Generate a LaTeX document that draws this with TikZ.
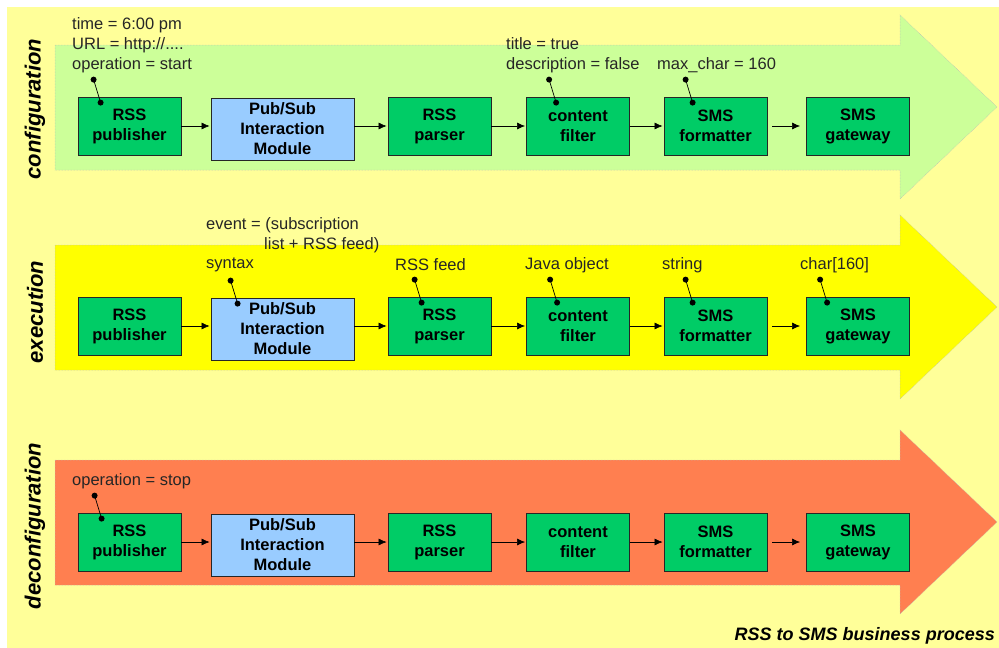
\documentclass[tikz,border=0pt]{standalone}
\usepackage{fontspec}
\setmainfont{Liberation Sans}
\usetikzlibrary{arrows.meta}
\definecolor{bgyellow}{HTML}{FFFF99}
\definecolor{cfggreen}{HTML}{CCFF99}
\definecolor{exeyellow}{HTML}{FFFF00}
\definecolor{decorange}{HTML}{FF7F50}
\definecolor{boxgreen}{HTML}{00CC66}
\definecolor{boxblue}{HTML}{99CCFF}
\begin{document}
\begin{tikzpicture}[x=1pt,y=-1pt,
    stage/.style={draw=gray!55, densely dotted, line width=0.5pt},
    block/.style={draw=black!85, fill=boxgreen, line width=0.8pt, minimum width=103pt,
      minimum height=58pt, inner sep=0pt, align=center,
      font=\fontsize{16.5}{20}\selectfont\bfseries},
    module/.style={block, fill=boxblue, minimum width=143pt, minimum height=62pt},
    note/.style={inner sep=0pt, anchor=west, align=left, text=black!85,
      font=\fontsize{16.5}{20}\selectfont},
    phase/.style={rotate=90, inner sep=0pt, font=\fontsize{22}{26}\selectfont\bfseries\itshape},
    flow/.style={-{Latex[length=8pt,width=7pt]}, line width=0.6pt, shorten >=1pt},
    pin/.style={line width=0.7pt}]
  \useasboundingbox (0,0) rectangle (999,648);
  \fill[bgyellow] (7,7) rectangle (999,648);
  % the three stage arrows
  \foreach \top/\col in {45/cfggreen, 245/exeyellow, 460/decorange}
    \draw[stage, fill=\col] (55,\top) -- (900,\top) -- (900,\top-30) -- (997,\top+62)
      -- (900,\top+154) -- (900,\top+125) -- (55,\top+125) -- cycle;
  % stage names
  \node[phase] (cfg) at (35,109) {configuration};
  \node[phase] (exe) at (35,312) {execution};
  \node[phase] (dec) at (35,526) {deconfiguration};
  % blocks of each row
  \foreach \r/\y in {1/126, 2/326, 3/542} {
    \node[block] (pub\r) at (129.5,\y) {RSS\\publisher};
    \node[module] (ps\r) at (282.5,\y+3) {Pub/Sub\\Interaction\\Module};
    \node[block] (par\r) at (439.5,\y) {RSS\\parser};
    \node[block] (cf\r) at (578,\y) {content\\filter};
    \node[block] (fmt\r) at (715.5,\y) {SMS\\formatter};
    \node[block] (gw\r) at (858,\y) {SMS\\gateway};
    \draw[flow] (pub\r.east) -- (pub\r.east -| ps\r.west);
    \draw[flow] (par\r.west -| ps\r.east) -- (par\r.west);
    \draw[flow] (par\r) -- (cf\r);
    \draw[flow] (cf\r) -- (fmt\r);
    \draw[flow, shorten <=5pt, shorten >=6pt] (fmt\r) -- (gw\r);
  }
  % pins
  \foreach \b/\dx in {pub1/23, cf1/30, fmt1/29, ps2/27, par2/34, cf2/31, fmt2/29, gw2/21, pub3/24} {
    \coordinate (in-\b) at ([shift={(\dx,6)}]\b.north west);
    \coordinate (out-\b) at ([shift={(-7,-23)}]in-\b);
    \draw[pin] (out-\b) -- (in-\b);
    \fill (out-\b) circle (3) (in-\b) circle (3);
  }
  % parameters
  \node[note] (n-pub1) at (72,45) {time = 6:00 pm\\URL = http://....\\operation = start};
  \node[note] (n-cf1) at (506,55) {title = true\\description = false};
  \node[note] (n-fmt1) at (657,65) {max\_char = 160};
  \node[note] (n-ev) at (206,235) {event = (subscription\\\hspace*{58pt}list + RSS feed)};
  \node[note] (n-ps2) at (206,265) {syntax};
  \node[note] (n-par2) at (395,265) {RSS feed};
  \node[note] (n-cf2) at (525,265) {Java object};
  \node[note] (n-fmt2) at (662,265) {string};
  \node[note] (n-gw2) at (800,265) {char[160]};
  \node[note] (n-pub3) at (72,481) {operation = stop};
  \node[anchor=east, inner sep=0pt, font=\fontsize{18}{20}\selectfont\bfseries\itshape]
    (caption) at (995,636) {RSS to SMS business process};
\end{tikzpicture}
\end{document}
